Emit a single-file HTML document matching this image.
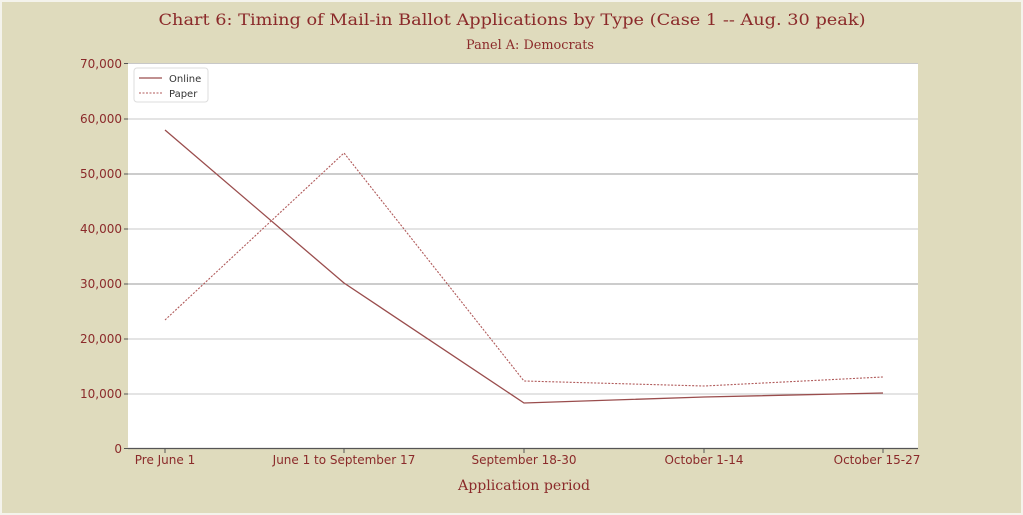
<!DOCTYPE html>
<html><head><style>
html,body{margin:0;padding:0;background:#fff;}
svg{display:block;}
</style></head><body>
<svg width="1023" height="515" xmlns="http://www.w3.org/2000/svg">
<rect x="0" y="0" width="1023" height="515" fill="#f4f3ec"/>
<rect x="2" y="2" width="1019" height="511" fill="#dfdbbd"/>
<text x="512" y="25" text-anchor="middle" font-family="DejaVu Serif, serif" font-size="16" fill="#8b2a2a" textLength="707" lengthAdjust="spacingAndGlyphs">Chart 6: Timing of Mail-in Ballot Applications by Type (Case 1 -- Aug. 30 peak)</text>
<text x="530" y="49" text-anchor="middle" font-family="DejaVu Serif, serif" font-size="13" fill="#8b2a2a" textLength="128" lengthAdjust="spacingAndGlyphs">Panel A: Democrats</text>
<rect x="128" y="63" width="790" height="386" fill="#fff"/>
<g stroke-width="1">
<line x1="128" x2="918" y1="119" y2="119" stroke="#c8c8c8"/>
<line x1="128" x2="918" y1="174" y2="174" stroke="#9a9a9a"/>
<line x1="128" x2="918" y1="229" y2="229" stroke="#c8c8c8"/>
<line x1="128" x2="918" y1="284" y2="284" stroke="#9a9a9a"/>
<line x1="128" x2="918" y1="339" y2="339" stroke="#c8c8c8"/>
<line x1="128" x2="918" y1="394" y2="394" stroke="#c8c8c8"/>
<line x1="128" x2="918" y1="63.5" y2="63.5" stroke="#c8c8c8"/>
</g>
<line x1="128" x2="918" y1="448.5" y2="448.5" stroke="#555" stroke-width="1.2"/>
<g stroke="#555">
<line x1="124" x2="128" y1="63.5" y2="63.5"/><line x1="124" x2="128" y1="119" y2="119"/>
<line x1="124" x2="128" y1="174" y2="174"/><line x1="124" x2="128" y1="229" y2="229"/>
<line x1="124" x2="128" y1="284" y2="284"/><line x1="124" x2="128" y1="339" y2="339"/>
<line x1="124" x2="128" y1="394" y2="394"/><line x1="124" x2="128" y1="448.5" y2="448.5"/>
<line x1="165" x2="165" y1="449" y2="453"/><line x1="344" x2="344" y1="449" y2="453"/>
<line x1="524" x2="524" y1="449" y2="453"/><line x1="704" x2="704" y1="449" y2="453"/>
<line x1="883" x2="883" y1="449" y2="453"/>
</g>
<g font-family="DejaVu Sans, sans-serif" font-size="12" fill="#8b2a2a" text-anchor="end">
<text x="122" y="68">70,000</text><text x="122" y="123">60,000</text>
<text x="122" y="178">50,000</text><text x="122" y="233">40,000</text>
<text x="122" y="288">30,000</text><text x="122" y="343">20,000</text>
<text x="122" y="398">10,000</text><text x="122" y="453">0</text>
</g>
<g font-family="DejaVu Sans, sans-serif" font-size="12" fill="#8b2a2a" text-anchor="middle">
<text x="165" y="464">Pre June 1</text>
<text x="344" y="464">June 1 to September 17</text>
<text x="524" y="464">September 18-30</text>
<text x="704" y="464">October 1-14</text>
<text x="877" y="464">October 15-27</text>
</g>
<text x="524" y="490" text-anchor="middle" font-family="DejaVu Serif, serif" font-size="14" fill="#8b2a2a" textLength="132" lengthAdjust="spacingAndGlyphs">Application period</text>
<polyline points="165,130 344,283 524,403 704,397 883,393" fill="none" stroke="#9a4d4d" stroke-width="1.3"/>
<polyline points="165,320 344,153 524,381 704,386 883,377" fill="none" stroke="#b05a5a" stroke-width="1.1" stroke-dasharray="2,1.5"/>
<rect x="134" y="68" width="74" height="34" rx="3" fill="#fff" stroke="#ddd"/>
<line x1="139" x2="162" y1="78" y2="78" stroke="#9a4d4d" stroke-width="1.3"/>
<line x1="139" x2="162" y1="93" y2="93" stroke="#b05a5a" stroke-width="1.1" stroke-dasharray="2,1.5"/>
<g font-family="DejaVu Sans, sans-serif" font-size="10" fill="#333">
<text x="169" y="82">Online</text><text x="169" y="97">Paper</text>
</g>
</svg>
</body></html>
